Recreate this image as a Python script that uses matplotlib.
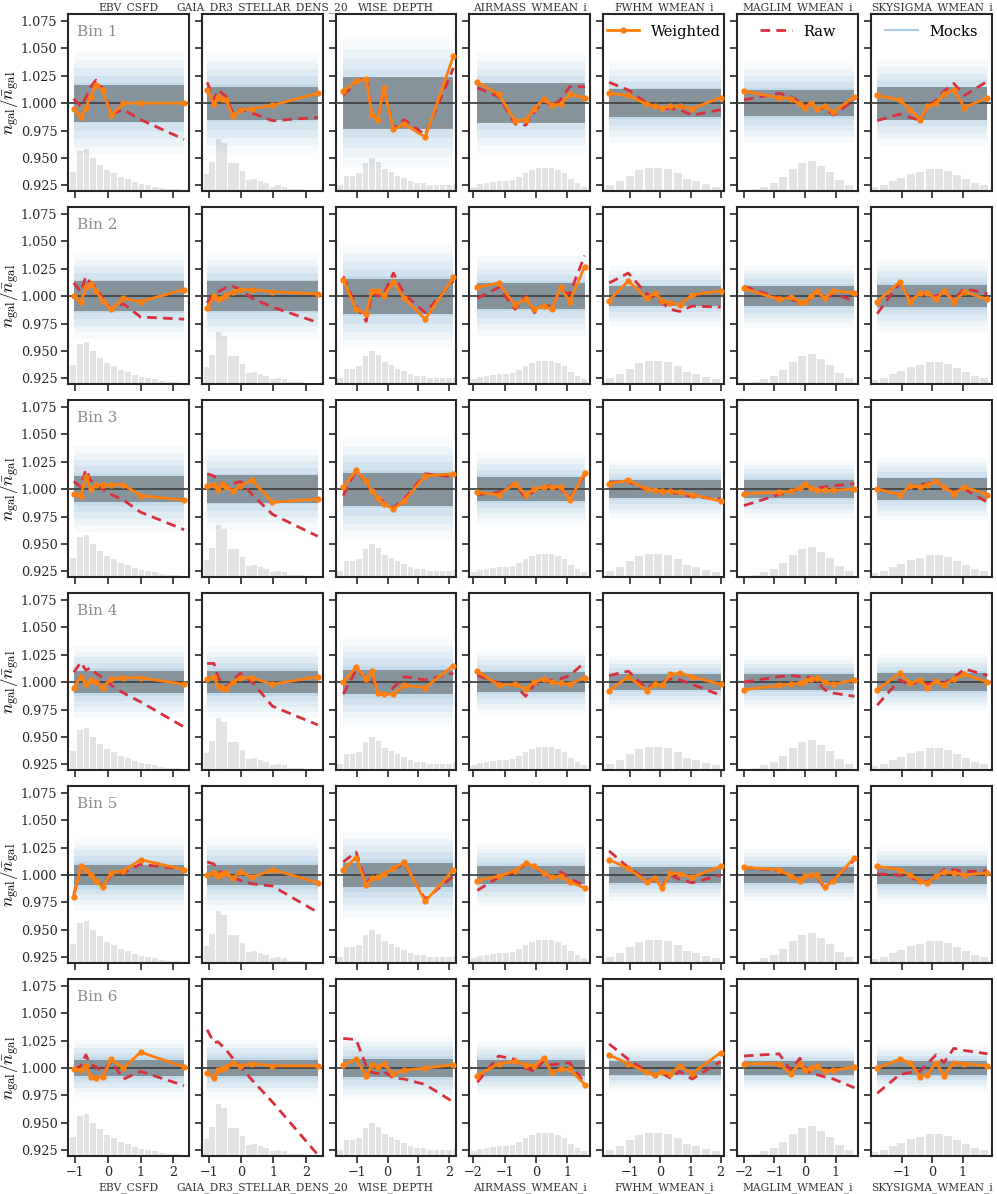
import matplotlib
matplotlib.use("Agg")
import matplotlib.pyplot as plt
from matplotlib.lines import Line2D
from matplotlib.ticker import FormatStrFormatter

plt.rcParams["font.family"] = ["DejaVu Serif"]
plt.rcParams["mathtext.fontset"] = "cm"

columns = ["EBV_CSFD", "GAIA_DR3_STELLAR_DENS_20", "WISE_DEPTH", "AIRMASS_WMEAN_i",
           "FWHM_WMEAN_i", "MAGLIM_WMEAN_i", "SKYSIGMA_WMEAN_i"]

# bin centres of the systematic-map bins, one list per column
x_bins = [
    [-1.04, -0.82, -0.67, -0.52, -0.36, -0.16, 0.11, 0.48, 1.0, 2.33],
    [-1.05, -0.84, -0.72, -0.58, -0.46, -0.26, -0.02, 0.34, 0.97, 2.37],
    [-1.45, -1.03, -0.70, -0.51, -0.32, -0.13, 0.19, 0.54, 1.23, 2.15],
    [-1.87, -1.19, -0.67, -0.33, -0.05, 0.25, 0.50, 0.78, 1.07, 1.55],
    [-1.71, -1.07, -0.46, -0.19, 0.05, 0.33, 0.64, 1.05, 2.0],
    [-2.0, -0.85, -0.47, -0.17, 0.0, 0.2, 0.38, 0.64, 0.93, 1.62],
    [-1.8, -1.07, -0.72, -0.4, -0.16, 0.12, 0.38, 0.7, 1.05, 1.8],
]

x_limits = [(-1.22, 2.47), (-1.22, 2.52), (-1.70, 2.25), (-2.12, 1.73),
            (-1.90, 2.12), (-2.22, 1.74), (-2.0, 1.95)]
x_ticks = [[-1, 0, 1, 2], [-1, 0, 1, 2], [-1, 0, 1, 2], [-2, -1, 0, 1],
           [-1, 0, 1, 2], [-2, -1, 0, 1], [-1, 0, 1]]

# histograms of the maps (bar centre, bar top in y units)
hist_x = [
    [-1.07, -0.86, -0.65, -0.44, -0.23, -0.02, 0.19, 0.40, 0.61, 0.82, 1.03, 1.24, 1.45, 1.66, 1.87, 2.08],
    [-1.08, -0.90, -0.71, -0.53, -0.34, -0.16, 0.03, 0.22, 0.40, 0.59, 0.77, 0.96, 1.14, 1.33, 1.51, 1.70,
     1.88, 2.07, 2.25, 2.44],
    [-1.56, -1.35, -1.14, -0.93, -0.72, -0.51, -0.30, -0.09, 0.12, 0.33, 0.54, 0.75, 0.96, 1.17, 1.38, 1.59,
     1.80, 2.01, 2.22],
    [-1.98, -1.78, -1.57, -1.37, -1.16, -0.95, -0.75, -0.54, -0.33, -0.13, 0.08, 0.29, 0.49, 0.70, 0.91, 1.11,
     1.32, 1.53],
    [-1.68, -1.35, -1.01, -0.71, -0.39, -0.08, 0.25, 0.58, 0.89, 1.19, 1.52, 1.85],
    [-1.97, -1.65, -1.34, -1.02, -0.71, -0.40, -0.11, 0.22, 0.52, 0.82, 1.13, 1.44],
    [-1.90, -1.59, -1.30, -1.01, -0.70, -0.40, -0.09, 0.21, 0.51, 0.81, 1.11, 1.40, 1.68],
]
hist_top = [
    [0.937, 0.956, 0.958, 0.950, 0.944, 0.939, 0.936, 0.933, 0.931, 0.928, 0.926, 0.925, 0.924, 0.923, 0.922, 0.922],
    [0.935, 0.946, 0.967, 0.964, 0.945, 0.945, 0.938, 0.930, 0.931, 0.929, 0.927, 0.924, 0.925, 0.924, 0.922, 0.922,
     0.922, 0.921, 0.921, 0.921],
    [0.925, 0.934, 0.934, 0.936, 0.945, 0.950, 0.946, 0.940, 0.937, 0.934, 0.932, 0.929, 0.927, 0.927, 0.925, 0.925,
     0.925, 0.925, 0.926],
    [0.924, 0.926, 0.927, 0.928, 0.929, 0.929, 0.930, 0.933, 0.936, 0.939, 0.941, 0.941, 0.941, 0.939, 0.936, 0.931,
     0.927, 0.924],
    [0.925, 0.929, 0.934, 0.939, 0.941, 0.941, 0.940, 0.936, 0.931, 0.929, 0.926, 0.924],
    [0.921, 0.922, 0.924, 0.927, 0.933, 0.940, 0.945, 0.947, 0.943, 0.937, 0.930, 0.925],
    [0.9235, 0.925, 0.929, 0.932, 0.935, 0.9375, 0.940, 0.940, 0.938, 0.9345, 0.931, 0.927, 0.925],
]
hist_width = [0.18, 0.16, 0.18, 0.175, 0.27, 0.27, 0.26]

# weighted / raw n_gal ratios, one list per column, per tomographic bin
weighted_bin1 = [
    [0.995, 0.987, 0.996, 1.006, 1.017, 1.012, 0.989, 1.000, 1.000, 1.000],
    [1.012, 0.999, 1.006, 1.004, 1.003, 0.988, 0.994, 0.995, 0.998, 1.009],
    [1.011, 1.020, 1.022, 0.989, 0.985, 1.014, 0.976, 0.981, 0.969, 1.043],
    [1.019, 1.008, 0.984, 0.985, 0.995, 1.004, 0.998, 0.999, 1.008, 1.005],
    [1.009, 1.007, 0.999, 0.997, 0.996, 0.997, 0.997, 0.995, 1.005],
    [1.011, 1.005, 1.004, 0.999, 0.996, 1.000, 0.995, 0.997, 0.992, 1.006],
    [1.007, 1.003, 0.994, 0.985, 0.997, 1.000, 1.008, 1.012, 0.996, 1.005],
]
raw_bin1 = [
    [1.004, 0.997, 1.005, 1.015, 1.021, 1.013, 0.990, 0.994, 0.985, 0.967],
    [1.019, 1.003, 1.012, 1.009, 1.006, 0.991, 0.995, 0.991, 0.984, 0.987],
    [1.007, 1.019, 1.024, 0.989, 0.985, 1.013, 0.977, 0.985, 0.971, 1.032],
    [1.014, 1.006, 0.981, 0.980, 0.992, 1.003, 0.997, 1.003, 1.015, 1.015],
    [1.019, 1.012, 1.000, 0.997, 0.995, 0.995, 0.994, 0.989, 0.994],
    [1.003, 1.009, 1.006, 1.001, 0.997, 1.000, 0.994, 0.996, 0.989, 1.003],
    [0.984, 0.990, 0.987, 0.984, 0.997, 1.003, 1.011, 1.018, 1.007, 1.020],
]
weighted_bin2 = [
    [1.000, 0.9945, 1.008, 1.011, 1.005, 0.996, 0.988, 0.998, 0.995, 1.006],
    [0.989, 1.000, 0.997, 0.998, 1.001, 1.004, 1.006, 1.006, 1.004, 1.002],
    [1.015, 0.988, 0.984, 1.005, 1.005, 1.000, 1.013, 0.998, 0.979, 1.017],
    [1.008, 1.012, 0.992, 0.997, 0.988, 0.991, 0.988, 1.008, 0.995, 1.027],
    [0.996, 1.014, 0.998, 1.003, 0.996, 0.994, 0.992, 1.001, 1.005],
    [1.007, 0.997, 0.999, 0.995, 0.995, 1.000, 1.005, 0.998, 1.005, 1.003],
    [0.995, 1.013, 0.995, 1.003, 1.003, 0.997, 1.005, 0.995, 1.004, 0.997],
]
raw_bin2 = [
    [1.012, 1.004, 1.018, 1.012, 1.008, 0.998, 0.988, 0.993, 0.981, 0.979],
    [0.994, 1.003, 1.004, 1.006, 1.008, 1.009, 1.006, 0.998, 0.990, 0.976],
    [1.018, 0.991, 0.977, 1.003, 1.000, 1.002, 1.021, 1.002, 0.985, 1.014],
    [0.998, 1.008, 0.988, 1.000, 0.985, 0.991, 0.991, 1.005, 1.002, 1.037],
    [1.012, 1.021, 1.002, 0.998, 0.994, 0.988, 0.986, 0.991, 0.990],
    [1.009, 0.998, 0.997, 0.995, 0.994, 1.000, 1.005, 0.997, 1.003, 0.995],
    [0.984, 1.012, 0.997, 1.002, 1.000, 1.000, 1.004, 0.997, 1.007, 1.002],
]
weighted_bin3 = [
    [0.996, 0.994, 1.011, 1.000, 1.004, 1.004, 1.004, 1.004, 0.994, 0.990],
    [1.003, 1.004, 0.999, 1.005, 1.002, 0.998, 1.003, 1.008, 0.988, 0.991],
    [1.002, 1.017, 1.007, 0.998, 0.992, 0.986, 0.982, 0.989, 1.012, 1.014],
    [0.997, 0.995, 1.005, 0.995, 1.000, 1.002, 1.002, 1.002, 0.990, 1.015],
    [1.005, 1.008, 1.000, 0.999, 0.998, 0.998, 0.997, 0.995, 0.989],
    [0.996, 0.997, 0.998, 1.001, 1.005, 1.001, 0.999, 0.999, 0.999, 1.000],
    [1.000, 0.995, 1.003, 1.002, 1.004, 1.007, 1.002, 0.996, 1.002, 0.995],
]
raw_bin3 = [
    [1.007, 1.002, 1.018, 1.008, 1.004, 1.000, 0.995, 0.990, 0.979, 0.963],
    [1.014, 1.012, 1.008, 1.004, 1.003, 1.005, 1.007, 0.995, 0.977, 0.957],
    [0.994, 1.017, 1.006, 0.998, 0.993, 0.988, 0.983, 0.991, 1.014, 1.011],
    [0.995, 0.997, 1.005, 0.992, 0.999, 1.002, 1.003, 1.000, 0.992, 1.013],
    [1.006, 1.007, 0.999, 0.999, 0.998, 0.997, 0.996, 0.993, 0.991],
    [0.985, 0.995, 0.997, 1.001, 1.004, 1.002, 1.001, 1.002, 1.003, 1.005],
    [1.000, 0.995, 1.002, 1.004, 1.005, 1.008, 1.001, 0.997, 1.000, 0.988],
]
weighted_bin4 = [
    [0.995, 1.005, 0.998, 1.002, 1.000, 0.995, 1.003, 1.004, 1.004, 0.998],
    [1.003, 1.005, 0.996, 0.995, 0.994, 1.000, 1.004, 1.004, 0.998, 1.005],
    [1.000, 1.014, 1.003, 1.010, 0.990, 0.989, 0.989, 0.997, 0.995, 1.015],
    [1.010, 0.997, 0.998, 0.994, 1.000, 1.003, 1.000, 0.999, 0.998, 1.004],
    [0.992, 1.005, 0.992, 0.998, 0.997, 1.007, 1.008, 1.005, 0.998],
    [0.993, 0.997, 0.998, 0.999, 1.001, 1.003, 1.004, 1.000, 0.998, 1.002],
    [0.993, 1.008, 0.999, 1.002, 0.995, 1.001, 0.997, 1.003, 1.007, 1.000],
]
raw_bin4 = [
    [1.009, 1.018, 1.011, 1.013, 1.008, 1.004, 0.997, 0.990, 0.982, 0.959],
    [1.017, 1.017, 1.005, 0.998, 0.995, 1.002, 1.008, 1.000, 0.978, 0.961],
    [0.989, 1.011, 1.004, 1.005, 0.991, 0.988, 0.995, 1.005, 1.002, 1.008],
    [1.006, 0.999, 0.997, 0.987, 0.998, 1.000, 1.002, 1.003, 1.006, 1.018],
    [1.006, 1.010, 0.994, 0.999, 1.000, 1.003, 1.002, 0.998, 0.988],
    [1.000, 1.005, 1.006, 1.005, 1.005, 1.004, 1.001, 0.993, 0.990, 0.987],
    [0.979, 1.002, 0.997, 1.002, 0.998, 1.000, 0.999, 1.004, 1.012, 1.006],
]
weighted_bin5 = [
    [0.980, 1.008, 1.005, 1.000, 0.995, 0.989, 1.002, 1.004, 1.014, 1.005],
    [1.000, 1.002, 0.999, 1.001, 1.002, 0.997, 1.003, 0.998, 1.005, 0.993],
    [1.005, 1.016, 0.991, 0.997, 0.998, 1.001, 1.006, 1.012, 0.976, 1.005],
    [0.995, 0.999, 1.004, 1.011, 1.008, 1.002, 0.998, 0.999, 0.994, 0.988],
    [1.014, 1.006, 0.994, 0.997, 0.988, 1.002, 1.001, 0.998, 1.008],
    [1.007, 1.005, 0.999, 0.995, 0.999, 1.000, 1.000, 0.989, 0.995, 1.016],
    [1.008, 1.005, 1.000, 0.995, 0.993, 0.999, 1.003, 1.002, 1.000, 1.002],
]
raw_bin5 = [
    [0.982, 1.007, 1.004, 1.000, 0.995, 0.990, 1.000, 1.002, 1.010, 1.005],
    [1.012, 1.010, 1.004, 1.002, 1.000, 0.998, 0.995, 0.992, 0.990, 0.966],
    [1.012, 1.021, 0.993, 0.998, 0.998, 1.001, 1.006, 1.010, 0.978, 0.999],
    [0.986, 0.998, 1.003, 1.010, 1.009, 1.000, 0.998, 1.003, 0.997, 0.990],
    [1.022, 1.007, 0.996, 0.995, 0.990, 1.000, 0.996, 0.993, 1.000],
    [1.007, 1.004, 0.998, 0.996, 0.998, 1.000, 0.999, 0.988, 0.996, 1.014],
    [1.001, 1.000, 0.998, 0.995, 0.994, 0.998, 1.005, 1.005, 1.003, 1.004],
]
weighted_bin6 = [
    [0.999, 0.998, 1.002, 0.992, 0.991, 0.992, 1.008, 1.000, 1.0145, 1.001],
    [0.9955, 0.991, 0.9985, 0.999, 1.001, 1.005, 1.002, 1.004, 1.002, 1.002],
    [1.003, 1.008, 0.993, 1.003, 1.001, 1.004, 0.995, 0.998, 1.000, 1.003],
    [0.993, 1.004, 1.006, 1.003, 1.002, 1.009, 0.996, 0.999, 0.999, 0.985],
    [1.012, 1.004, 0.996, 0.994, 0.996, 0.995, 1.002, 0.995, 1.014],
    [1.004, 1.004, 0.995, 1.004, 0.998, 1.000, 1.002, 0.997, 0.998, 1.001],
    [1.000, 1.008, 1.005, 0.992, 0.994, 1.005, 0.993, 1.005, 1.004, 1.002],
]
raw_bin6 = [
    [0.999, 1.002, 1.012, 1.003, 1.001, 0.997, 1.006, 0.990, 0.997, 0.984],
    [1.035, 1.023, 1.024, 1.020, 1.0165, 1.009, 1.001, 0.989, 0.969, 0.921],
    [1.027, 1.026, 1.002, 0.996, 0.995, 0.997, 0.991, 0.990, 0.985, 0.969],
    [0.987, 1.011, 1.008, 1.000, 0.997, 1.007, 1.003, 1.004, 1.005, 0.986],
    [1.022, 1.008, 0.997, 0.993, 0.995, 0.991, 0.997, 0.990, 1.006],
    [1.011, 1.013, 0.998, 1.009, 1.000, 0.995, 0.994, 0.992, 0.990, 0.982],
    [0.977, 0.994, 0.996, 0.997, 1.004, 1.012, 1.005, 1.018, 1.016, 1.013],
]

# half-width of the mock 1-sigma band and of the bulk of the mock curves
band_halfwidth = [
    [0.017, 0.015, 0.024, 0.018, 0.013, 0.012, 0.015],
    [0.014, 0.014, 0.016, 0.012, 0.009, 0.009, 0.010],
    [0.012, 0.013, 0.015, 0.011, 0.008, 0.008, 0.010],
    [0.010, 0.010, 0.011, 0.009, 0.007, 0.007, 0.008],
    [0.009, 0.009, 0.011, 0.008, 0.007, 0.007, 0.008],
    [0.007, 0.007, 0.008, 0.007, 0.006, 0.006, 0.006],
]
mock_halfwidth = [
    [0.036, 0.035, 0.045, 0.035, 0.028, 0.028, 0.030],
    [0.030, 0.030, 0.036, 0.028, 0.021, 0.022, 0.025],
    [0.030, 0.028, 0.035, 0.025, 0.020, 0.020, 0.022],
    [0.025, 0.025, 0.030, 0.022, 0.018, 0.018, 0.020],
    [0.025, 0.025, 0.030, 0.022, 0.018, 0.018, 0.020],
    [0.020, 0.020, 0.022, 0.018, 0.015, 0.015, 0.016],
]

weighted = [weighted_bin1, weighted_bin2, weighted_bin3, weighted_bin4, weighted_bin5, weighted_bin6]
raw = [raw_bin1, raw_bin2, raw_bin3, raw_bin4, raw_bin5, raw_bin6]

ORANGE = "#ff7f0e"
RED = "#d8303c"
BLUE = "#1f77b4"
SPINE = "#262626"
# graded haze standing in for the individual mock curves (fraction of spread, alpha)
haze_layers = [(1.3, 0.035), (1.1, 0.045), (0.9, 0.06), (0.7, 0.07), (0.5, 0.08)]

n_rows, n_cols = 6, 7
fig, axes = plt.subplots(n_rows, n_cols, figsize=(9.97, 11.94), dpi=100, sharey=True)
fig.subplots_adjust(left=0.068, right=0.995, top=0.988, bottom=0.032, wspace=0.1075, hspace=0.093)

for i in range(n_rows):
    for j in range(n_cols):
        ax = axes[i, j]
        x = x_bins[j]
        lo, hi = x[0], x[-1]

        ax.bar(hist_x[j], [t - 0.92 for t in hist_top[j]], bottom=0.92, width=hist_width[j],
               color="#e3e3e3", zorder=0)

        m = mock_halfwidth[i][j]
        for frac, a in haze_layers:
            ax.fill_between([lo, hi], [1 - frac * m] * 2, [1 + frac * m] * 2,
                            color=BLUE, alpha=a, lw=0, zorder=1)
        b = band_halfwidth[i][j]
        ax.fill_between([lo, hi], [1 - b] * 2, [1 + b] * 2, color="#4d4d4d", alpha=0.5, lw=0, zorder=2)

        ax.axhline(1.0, color="#444444", lw=1.3, zorder=3)
        ax.plot(x, raw[i][j], color=RED, lw=2.0, ls=(0, (3.5, 2.2)), zorder=4)
        ax.plot(x, weighted[i][j], color=ORANGE, lw=2.0, marker="o", ms=3.5, zorder=5)

        ax.set_xlim(*x_limits[j])
        ax.set_ylim(0.92, 1.081)
        ax.set_xticks(x_ticks[j])
        ax.set_yticks([0.925, 0.95, 0.975, 1.0, 1.025, 1.05, 1.075])
        ax.tick_params(direction="out", length=5, width=1.2, colors=SPINE, labelsize=9.2, pad=2.5)
        for s in ax.spines.values():
            s.set_linewidth(1.5)
            s.set_color(SPINE)

        if i < n_rows - 1:
            ax.tick_params(labelbottom=False)
        else:
            ax.set_xlabel(columns[j], fontsize=7.7, labelpad=2, color="#333333")
        if i == 0:
            ax.set_title(columns[j], fontsize=7.7, pad=3, color="#333333")
        if j == 0:
            ax.set_ylabel(r"$n_{\rm gal}/\bar{n}_{\rm gal}$", fontsize=12.5)
            ax.yaxis.set_label_coords(-0.375, 0.5)
            ax.yaxis.set_major_formatter(FormatStrFormatter("%.3f"))
            ax.text(0.08, 0.94, f"Bin {i + 1}", transform=ax.transAxes, fontsize=11,
                    color="#8c8c8c", ha="left", va="top")

legend_items = [
    (Line2D([], [], color=ORANGE, lw=2, marker="o", ms=3.5), "Weighted", 4),
    (Line2D([], [], color=RED, lw=2, ls=(0, (3.5, 2.2))), "Raw", 5),
    (Line2D([], [], color="#a9c9e4", lw=1.5), "Mocks", 6),
]
for handle, label, col in legend_items:
    axes[0, col].legend([handle], [label], loc="upper center", frameon=False, fontsize=10.5,
                        handlelength=2.2, borderaxespad=0.3)

fig.savefig("out.png", dpi=100)
